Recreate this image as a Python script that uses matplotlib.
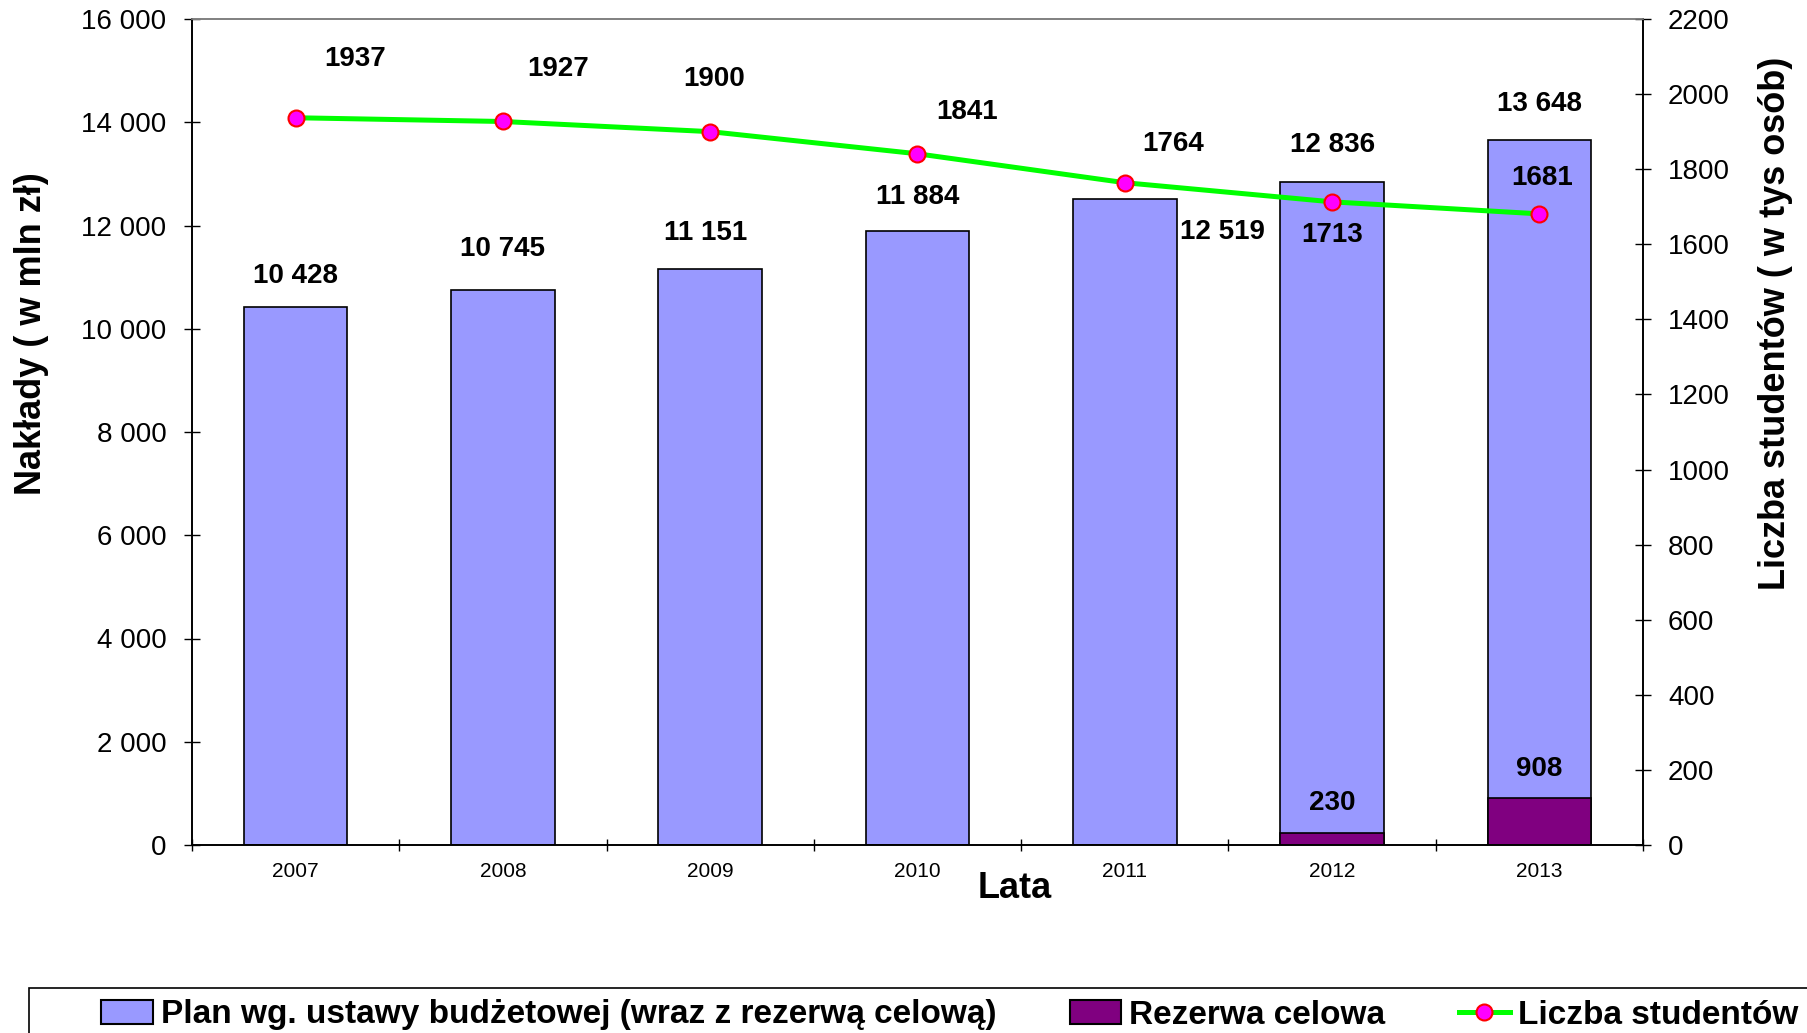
import matplotlib
matplotlib.use('Agg')
import matplotlib.pyplot as plt
import matplotlib.ticker as ticker
from matplotlib.patches import Patch, Rectangle
from matplotlib.lines import Line2D

plt.rcParams['font.family'] = ['Liberation Sans', 'DejaVu Sans']

years = ['2007', '2008', '2009', '2010', '2011', '2012', '2013']
plan = [10428, 10745, 11151, 11884, 12519, 12836, 13648]
reserve = [0, 0, 0, 0, 0, 230, 908]
students = [1937, 1927, 1900, 1841, 1764, 1713, 1681]

# label offsets in points (dx, dy)
plan_off = [(0, 22), (0, 30), (-3, 26), (0, 25), (70, -24), (0, 27), (0, 26)]
reserve_off = [(0, 22), (0, 21)]
stud_off = [(43, 42), (40, 38), (3, 38), (36, 30), (35, 28), (0, -24), (2, 26)]

light = '#9999FF'
dark = '#800080'

fig = plt.figure(figsize=(18.08, 10.33), dpi=100)
ax = fig.add_axes([192 / 1808, 1 - 845 / 1033, 1451 / 1808, 826 / 1033])
ax2 = ax.twinx()

x = list(range(len(years)))
ax.bar(x, plan, width=0.5, color=light, edgecolor='black', linewidth=1.2, zorder=2)
ax.bar(x, reserve, width=0.5, color=dark, edgecolor='black', linewidth=1.2, zorder=3)

lab = dict(ha='center', va='center', fontsize=20, fontweight='bold',
           textcoords='offset points')
for i, v in enumerate(plan):
    ax.annotate('{:,}'.format(v).replace(',', ' '), (i, v), xytext=plan_off[i], **lab)
k = 0
for i, v in enumerate(reserve):
    if v > 0:
        ax.annotate(str(v), (i, v), xytext=reserve_off[k], **lab)
        k += 1

ax2.plot(x, students, color='#00FF00', lw=3.6, marker='o', ms=11.5,
         mfc='#FF00FF', mec='red', mew=1.5, zorder=5)
for i, v in enumerate(students):
    ax2.annotate(str(v), (i, v), xytext=stud_off[i], **lab)

ax.set_xlim(-0.5, len(years) - 0.5)
ax.set_ylim(0, 16000)
ax2.set_ylim(0, 2200)
ax.yaxis.set_major_locator(ticker.MultipleLocator(2000))
ax2.yaxis.set_major_locator(ticker.MultipleLocator(200))
ax.yaxis.set_major_formatter(ticker.FuncFormatter(
    lambda v, p: '{:,}'.format(int(v)).replace(',', ' ')))

ax.set_xticks(x)
ax.set_xticklabels(years)
ax.set_xticks([i - 0.5 for i in range(len(years) + 1)], minor=True)
ax.tick_params(axis='x', which='major', length=0, pad=12, labelsize=15)
ax.tick_params(axis='x', which='minor', direction='inout', length=8, width=1)
ax.tick_params(axis='y', direction='inout', length=12, width=1, pad=12.5, labelsize=20)
ax2.tick_params(axis='y', direction='inout', length=12, width=1, pad=12, labelsize=20)

for a in (ax, ax2):
    for s in ('left', 'right', 'bottom'):
        a.spines[s].set_color('black')
        a.spines[s].set_linewidth(1.2)
    a.spines['top'].set_color('#808080')
    a.spines['top'].set_linewidth(1.2)

fig.text(1015 / 1808, 1 - 889 / 1033, 'Lata', ha='center', va='center',
         fontsize=26, fontweight='bold')
fig.text(32 / 1808, 1 - 334 / 1033, 'Nakłady ( w mln zł)', ha='center', va='center',
         rotation=90, fontsize=26, fontweight='bold')
fig.text(1776 / 1808, 1 - 323 / 1033, 'Liczba studentów ( w tys osób)', ha='center',
         va='center', rotation=90, fontsize=26, fontweight='bold')

handles = [
    Patch(facecolor=light, edgecolor='black', linewidth=1.5),
    Patch(facecolor=dark, edgecolor='black', linewidth=1.5),
    Line2D([], [], color='#00FF00', lw=3.6, marker='o', ms=11.5,
           mfc='#FF00FF', mec='red', mew=1.5),
]
labels = ['Plan wg. ustawy budżetowej (wraz z rezerwą celową)', 'Rezerwa celowa',
          'Liczba studentów']
fig.legend(handles, labels, loc='center left', bbox_to_anchor=(101 / 1808, 1 - 1015 / 1033),
           ncol=3, frameon=False, borderpad=0, borderaxespad=0, handlelength=1.55,
           handletextpad=0.24, columnspacing=2.2, prop={'size': 24, 'weight': 'bold'})
fig.patches.append(Rectangle((29 / 1808, -0.1), 1.2, 0.1 + 1 - 988 / 1033,
                             transform=fig.transFigure, fill=False,
                             edgecolor='black', linewidth=1.2))

fig.savefig('out.png', dpi=100)
